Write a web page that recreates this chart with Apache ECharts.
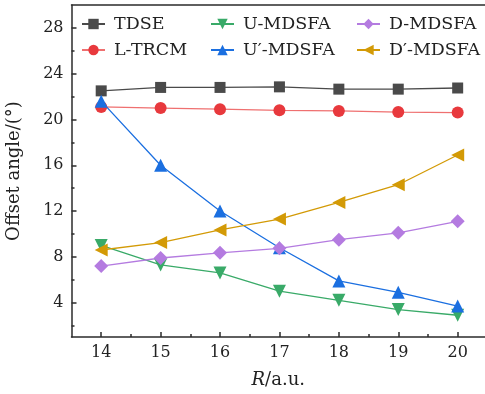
<!DOCTYPE html>
<html>
<head>
<meta charset="utf-8">
<script src="https://cdn.jsdelivr.net/npm/echarts@6/dist/echarts.min.js"></script>
<style>
  html, body { margin: 0; padding: 0; background: #fff; }
  #chart { width: 485px; height: 394px; }
</style>
</head>
<body>
<div id="chart"></div>
<script>
// 数据
var rValues = [14, 15, 16, 17, 18, 19, 20];
var tdse = [22.5, 22.8, 22.8, 22.85, 22.65, 22.65, 22.75];
var lTrcm = [21.1, 21.0, 20.9, 20.8, 20.75, 20.65, 20.6];
var uMdsfa = [9.0, 7.3, 6.6, 5.0, 4.2, 3.4, 2.9];
var uPrimeMdsfa = [21.6, 16.0, 12.0, 8.8, 5.9, 4.9, 3.7];
var dMdsfa = [7.2, 7.9, 8.35, 8.75, 9.5, 10.1, 11.1];
var dPrimeMdsfa = [8.6, 9.25, 10.35, 11.3, 12.75, 14.3, 16.9];
var yTicks = [4, 8, 12, 16, 20, 24, 28];
var yMinorTicks = [2, 6, 10, 14, 18, 22, 26];
var xMinorTicks = [14.5, 15.5, 16.5, 17.5, 18.5, 19.5];

var FONT = 'DejaVu Serif';

function pairs(ys) {
  var out = [];
  for (var i = 0; i < rValues.length; i++) {
    out.push([rValues[i], ys[i]]);
  }
  return out;
}

function makeSeries(name, ys, color, lineColor, symbol, size, rotate) {
  return {
    name: name,
    type: 'line',
    xAxisIndex: 0,
    yAxisIndex: 0,
    data: pairs(ys),
    symbol: symbol,
    symbolSize: size,
    symbolRotate: rotate || 0,
    showAllSymbol: true,
    itemStyle: { color: color, opacity: 1 },
    lineStyle: { color: lineColor || color, width: 1.3 },
    emphasis: { disabled: true },
    animation: false
  };
}

function legendCol(names, left) {
  return {
    data: names,
    orient: 'vertical',
    left: left,
    top: 10,
    itemWidth: 23,
    itemHeight: 13,
    itemGap: 8,
    textStyle: { fontFamily: FONT, fontSize: 17.5, lineHeight: 18, color: '#222', padding: [0, 0, 0, 4] },
    selectedMode: false
  };
}

var myChart = echarts.init(document.getElementById('chart'));
var axisLineStyle = { color: '#2b2b2b', width: 1.5 };
var option = {
  animation: false,
  legend: [
    legendCol(['TDSE', 'L-TRCM'], 76),
    legendCol(['U-MDSFA', 'U\u2032-MDSFA'], 205),
    legendCol(['D-MDSFA', 'D\u2032-MDSFA'], 351)
  ],
  grid: { left: 71.5, right: 0, top: 5, bottom: 57, outerBoundsMode: 'none', containLabel: false },
  xAxis: [
    {
      type: 'value', min: 13.5, max: 20.46,
      name: '{i|R}/a.u.', nameLocation: 'middle', nameGap: 34,
      nameTextStyle: {
        fontFamily: FONT, fontSize: 18, color: '#222',
        rich: { i: { fontFamily: FONT, fontSize: 18, fontStyle: 'italic', color: '#222' } }
      },
      axisLine: { show: true, onZero: false, lineStyle: axisLineStyle },
      axisTick: { show: true, inside: true, length: 5, customValues: rValues, lineStyle: axisLineStyle },
      axisLabel: { customValues: rValues, margin: 8, fontFamily: FONT, fontSize: 16, color: '#222' },
      splitLine: { show: false }
    },
    {
      type: 'value', min: 13.5, max: 20.46, position: 'bottom',
      axisLine: { show: false },
      axisTick: { show: true, inside: true, length: 3, customValues: xMinorTicks, lineStyle: axisLineStyle },
      axisLabel: { show: false },
      splitLine: { show: false }
    },
    {
      type: 'value', min: 13.5, max: 20.46, position: 'top',
      axisLine: { show: true, lineStyle: axisLineStyle },
      axisTick: { show: false },
      axisLabel: { show: false },
      splitLine: { show: false }
    }
  ],
  yAxis: [
    {
      type: 'value', min: 1, max: 30,
      name: 'Offset angle/(\u00b0)', nameLocation: 'middle', nameGap: 48,
      nameTextStyle: { fontFamily: FONT, fontSize: 18, color: '#222' },
      axisLine: { show: true, onZero: false, lineStyle: axisLineStyle },
      axisTick: { show: true, inside: true, length: 5, customValues: yTicks, lineStyle: axisLineStyle },
      axisLabel: { customValues: yTicks, margin: 8, fontFamily: FONT, fontSize: 16, color: '#222' },
      splitLine: { show: false }
    },
    {
      type: 'value', min: 1, max: 30, position: 'left',
      axisLine: { show: false },
      axisTick: { show: true, inside: true, length: 3, customValues: yMinorTicks, lineStyle: axisLineStyle },
      axisLabel: { show: false },
      splitLine: { show: false }
    }
  ],
  series: [
    makeSeries('TDSE', tdse, '#4a4a4a', '#4a4a4a', 'rect', 11),
    makeSeries('L-TRCM', lTrcm, '#e8393d', '#ef7070', 'circle', 12),
    makeSeries('U-MDSFA', uMdsfa, '#39aa68', '#39aa68', 'triangle', 13, 180),
    makeSeries('U\u2032-MDSFA', uPrimeMdsfa, '#1b6fe0', '#1b6fe0', 'triangle', 13),
    makeSeries('D-MDSFA', dMdsfa, '#b47be0', '#b47be0', 'diamond', 14),
    makeSeries('D\u2032-MDSFA', dPrimeMdsfa, '#d39a06', '#d39a06', 'triangle', 13, 90)
  ]
};
myChart.setOption(option);
</script>
</body>
</html>
